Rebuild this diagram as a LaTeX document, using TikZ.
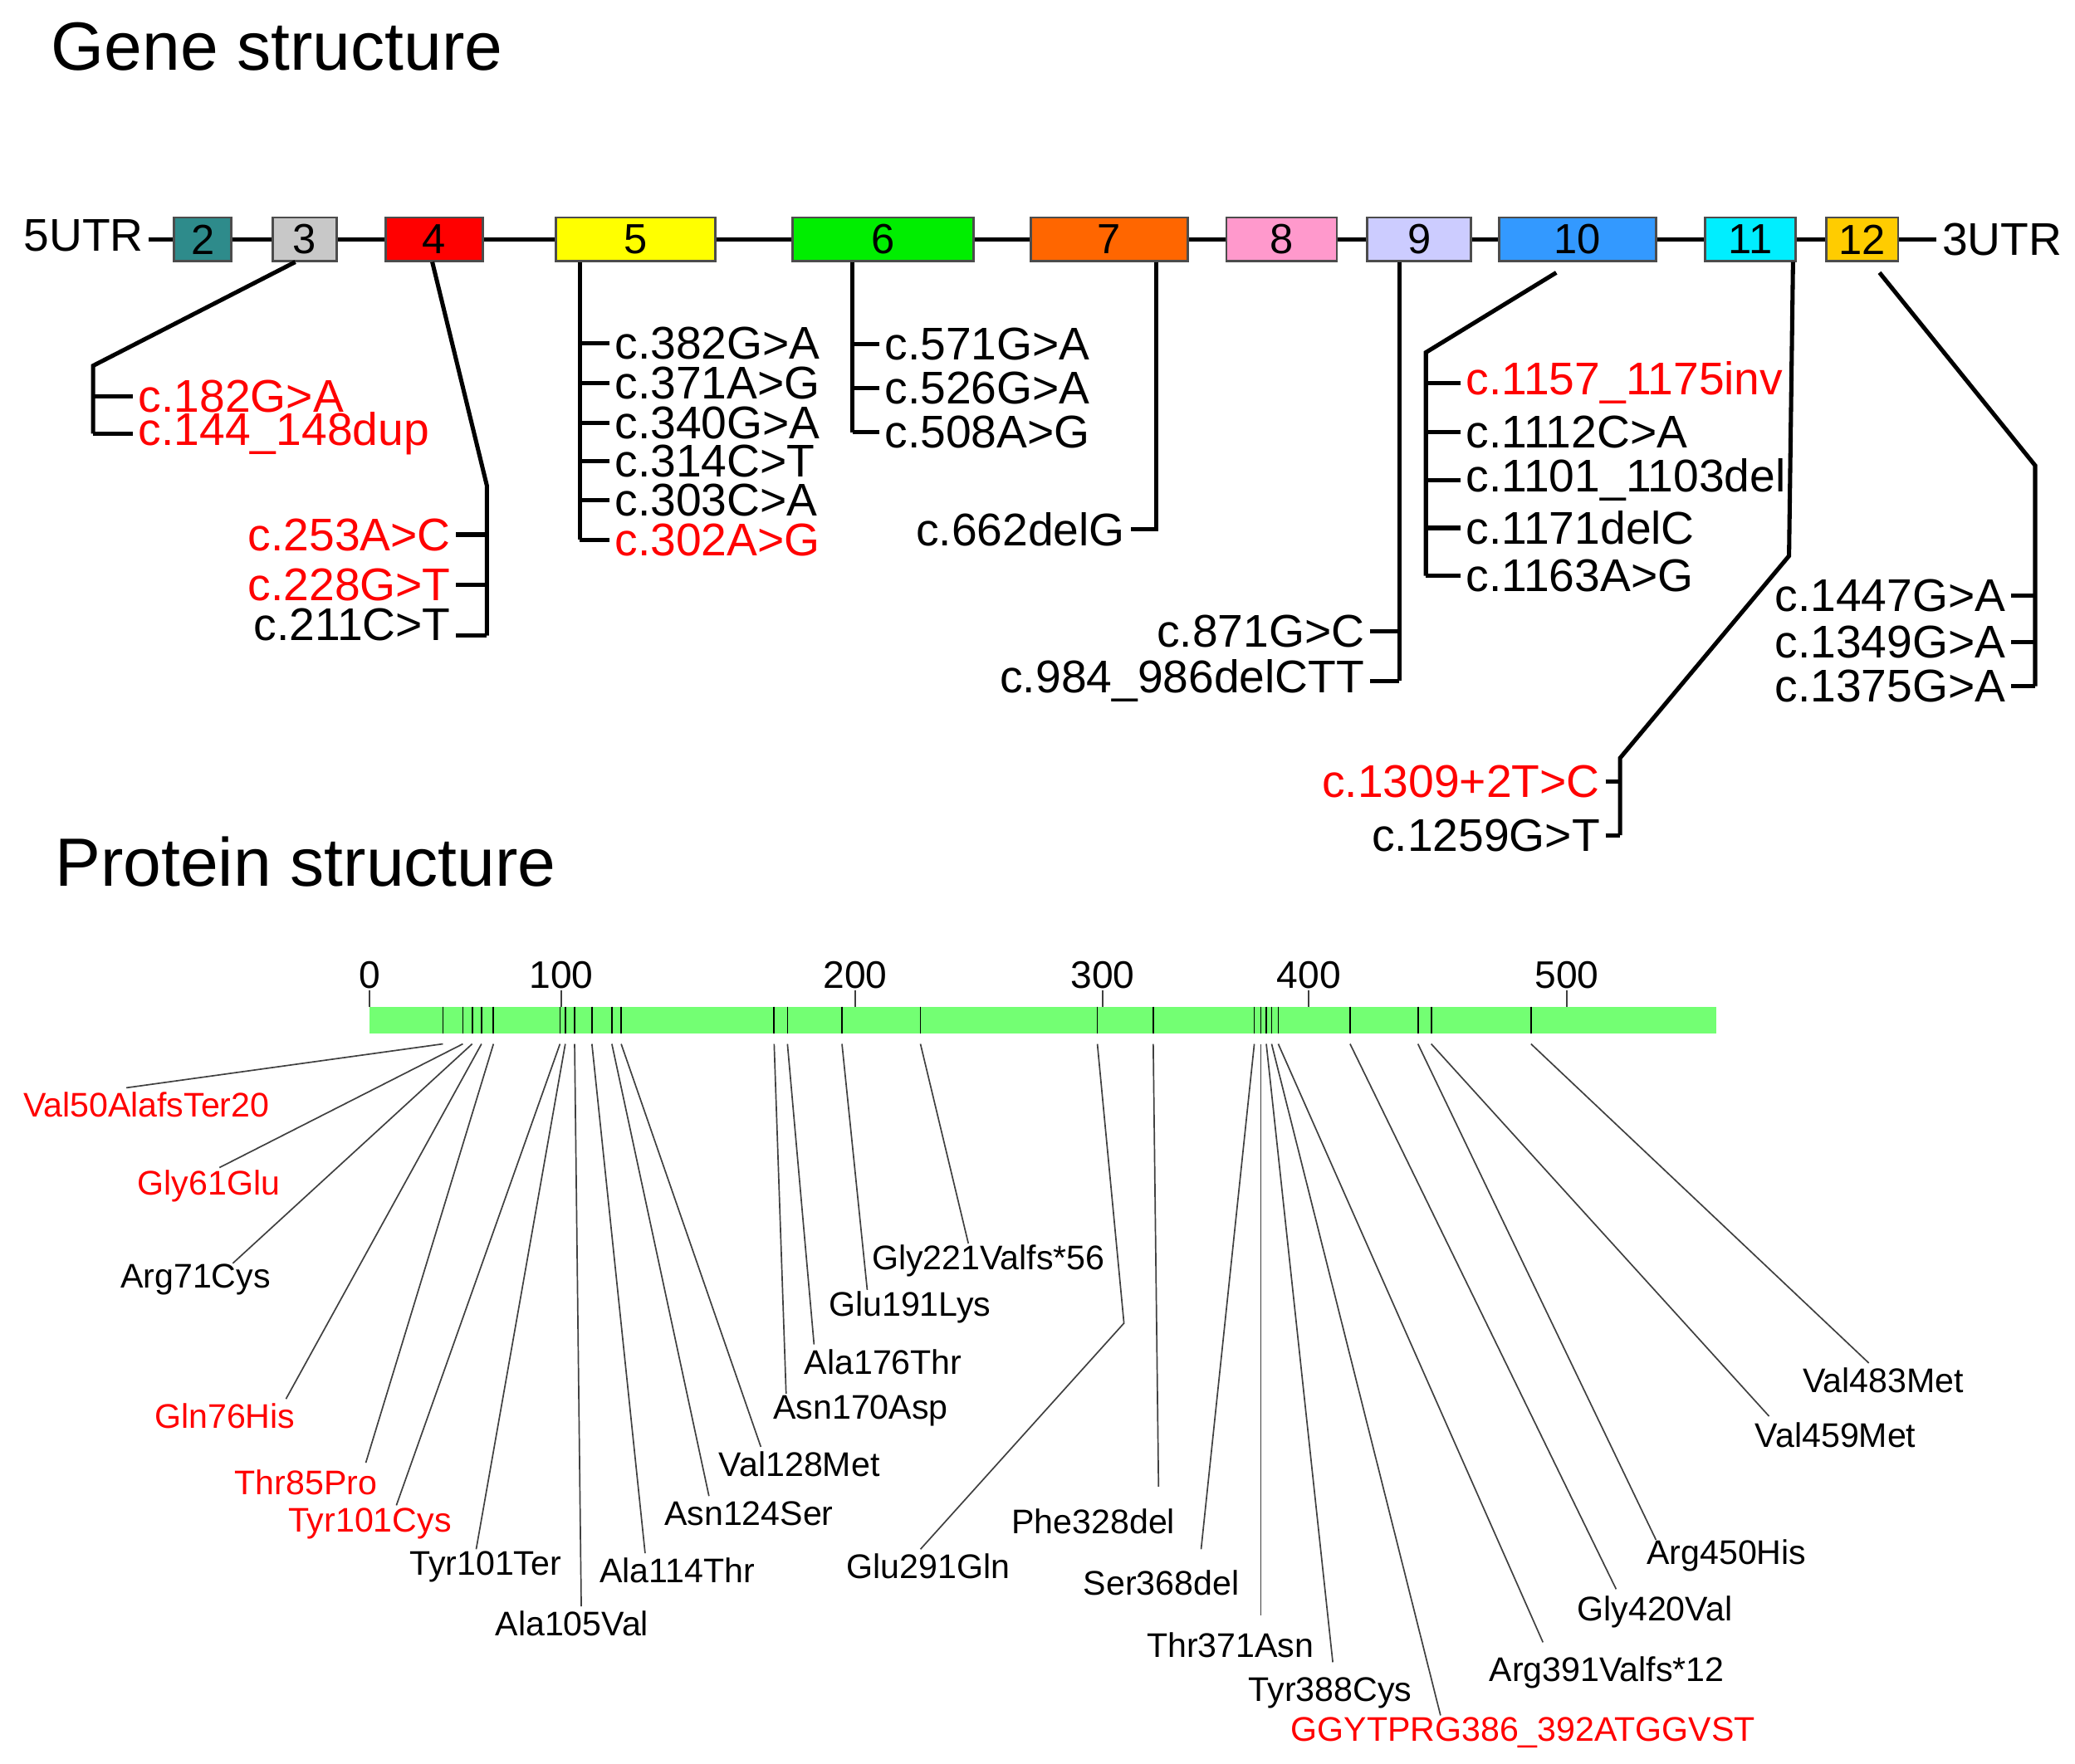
\documentclass[tikz,border=0pt]{standalone}
\usepackage{fontspec}
\setmainfont{Liberation Sans}
\begin{document}
\begin{tikzpicture}[x=0.01cm,y=-0.01cm,
 exon/.style={draw=black!70,line width=0.5pt,minimum height=0.33cm,inner sep=0pt,font=\fontsize{9}{9}\selectfont},
 gl/.style={font=\fontsize{9.8}{10}\selectfont,inner sep=1pt},
 pl/.style={font=\fontsize{7.3}{8}\selectfont,inner sep=1pt},
 ax/.style={font=\fontsize{8.2}{9}\selectfont},
 ln/.style={line width=0.9pt},
 pln/.style={line width=0.3pt,black!75},
 mut/.style={red}]
\useasboundingbox (0,0) rectangle (1560,1326);
\node[anchor=west,font=\fontsize{14.6}{16}\selectfont] (t1) at (26,35) {Gene structure};
\node[anchor=west,font=\fontsize{14.6}{16}\selectfont] (t2) at (29,648) {Protein structure};
% backbone
\node[anchor=east,gl] (u5) at (112,177) {5UTR};
\node[anchor=west,gl] (u3) at (1456,180) {3UTR};
\draw[ln] (u5.east|-0,180) -- (u3.west|-0,180);
\definecolor{c2}{HTML}{2E8B8B}\definecolor{c3}{HTML}{C8C8C8}\definecolor{c4}{HTML}{FF0000}
\definecolor{c5}{HTML}{FFFF00}\definecolor{c6}{HTML}{00EE00}\definecolor{c7}{HTML}{FF6600}
\definecolor{c8}{HTML}{FF99CC}\definecolor{c9}{HTML}{CCCCFF}\definecolor{c10}{HTML}{3399FF}
\definecolor{c11}{HTML}{00EEFF}\definecolor{c12}{HTML}{FFCC00}
\foreach \n/\a/\b in {2/131/174,3/205/253,4/290/363,5/418/538,6/596/732,7/775/893,8/922/1005,9/1028/1106,10/1127/1245,11/1282/1350,12/1373/1427}{
 \pgfmathsetmacro\w{(\b-\a)*0.01}
 \node[exon,fill=c\n,minimum width=\w cm] (e\n) at ({(\a+\b)/2},180) {\n};}
% exon 3
\coordinate (k3) at (70,275);\coordinate (k3b) at (70,326);
\draw[ln] (222,197) -- (k3) -- (k3b);
\node[gl,mut,anchor=west] (m182) at (100,298) {c.182G>A};
\node[gl,mut,anchor=west] (m144) at (100,326) {c.144\_148dup};
\draw[ln] (70,298) -- (m182.west); \draw[ln] (k3b) -- (m144.west);
% exon 4
\coordinate (k4) at (366,365);\coordinate (k4b) at (366,478);
\draw[ln] (325,197) -- (k4) -- (k4b);
\node[gl,mut,anchor=east] (m253) at (343,402) {c.253A>C};
\node[gl,mut,anchor=east] (m228) at (343,440) {c.228G>T};
\node[gl,anchor=east] (m211) at (343,470) {c.211C>T};
\draw[ln] (m253.east) -- (366,402); \draw[ln] (m228.east) -- (366,440); \draw[ln] (m211.east|-k4b) -- (k4b);
% exon 5
\draw[ln] (436,197) -- (436,406);
\foreach \y/\t/\c in {258/c.382G>A/black,288/c.371A>G/black,318/c.340G>A/black,347/c.314C>T/black,376/c.303C>A/black,406/c.302A>G/red}{
 \node[gl,anchor=west,text=\c] (x5\y) at (458,\y) {\t}; \draw[ln] (436,\y) -- (x5\y.west);}
% exon 6
\draw[ln] (641,197) -- (641,325);
\foreach \y/\t in {259/c.571G>A,292/c.526G>A,325/c.508A>G}{
 \node[gl,anchor=west] (x6\y) at (661,\y) {\t}; \draw[ln] (641,\y) -- (x6\y.west);}
% exon 7
\node[gl,anchor=east] (m662) at (850,398) {c.662delG};
\draw[ln] (869,197) -- (869,398) -- (m662.east);
% exon 9
\draw[ln] (1052,197) -- (1052,512);
\node[gl,anchor=east] (m871) at (1030,475) {c.871G>C};
\node[gl,anchor=east] (m984) at (1030,512) {c.984\_986delCTT};
\draw[ln] (m871.east) -- (1052,475); \draw[ln] (m984.east) -- (1052,512);
% exon 10
\draw[ln] (1170,205) -- (1072,265) -- (1072,433);
\foreach \y/\t/\c in {288/c.1157\_1175inv/red,325/c.1112C>A/black,361/c.1101\_1103del/black,397/c.1171delC/black,433/c.1163A>G/black}{
 \node[gl,anchor=west,text=\c] (x10\y) at (1098,\y) {\t}; \draw[ln] (1072,\y) -- (x10\y.west);}
% exon 11
\draw[ln] (1348,197) -- (1345,418) -- (1218,570) -- (1218,628);
\node[gl,mut,anchor=east] (m1309) at (1207,588) {c.1309+2T>C};
\node[gl,anchor=east] (m1259) at (1207,628) {c.1259G>T};
\draw[ln] (m1309.east) -- (1218,588); \draw[ln] (m1259.east) -- (1218,628);
% exon 12
\draw[ln] (1413,205) -- (1530,350) -- (1530,516);
\foreach \y/\t in {448/c.1447G>A,483/c.1349G>A,516/c.1375G>A}{
 \node[gl,anchor=east] (x12\y) at (1512,\y) {\t}; \draw[ln] (x12\y.east) -- (1530,\y);}
% protein
\fill[green!55!white] (278,757) rectangle (1290,777);
\foreach \x/\l in {278/0,422/100,643/200,829/300,984/400,1178/500}{
 \node[ax] (a\l) at (\x,733) {\l}; \draw[pln] (\x,745) -- (\x,757);}
\foreach \x/\lx/\ly/\t/\c/\ex/\ey in {
333/110/831/Val50AlafsTer20/red/95/818,
348/157/892/Gly61Glu/red/165/878,
355/147/962/Arg71Cys/black/175/950,
362/169/1065/Gln76His/red/215/1052,
371/230/1115/Thr85Pro/red/275/1100,
421/278/1146/Tyr101Cys/red/298/1132,
425/365/1178/Tyr101Ter/black/358/1165,
432/430/1221/Ala105Val/black/437/1208,
445/509/1181/Ala114Thr/black/485/1168,
460/563/1138/Asn124Ser/black/533/1125,
467/601/1101/Val128Met/black/572/1088,
582/647/1061/Asn170Asp/black/591/1048,
592/664/1024/Ala176Thr/black/612/1011,
633/684/983/Glu191Lys/black/652/970,
692/743/948/Gly221Valfs*56/black/728/935,
867/822/1144/Phe328del/black/871/1118,
943/873/1190/Ser368del/black/903/1165,
948/925/1237/Thr371Asn/black/948/1215,
952/1000/1273/Tyr388Cys/black/1002/1250,
956/1145/1303/GGYTPRG386\_392ATGGVST/red/1083/1290,
961/1208/1258/Arg391Valfs*12/black/1160/1235,
1015/1244/1212/Gly420Val/black/1215/1195,
1066/1298/1170/Arg450His/black/1245/1158,
1076/1380/1079/Val459Met/black/1330/1065,
1151/1416/1038/Val483Met/black/1405/1025}{
 \draw[pln,black] (\x,757) -- (\x,777);
 \node[pl,text=\c] (p\x) at (\lx,\ly) {\t};
 \draw[pln] (\x,785) -- (\ex,\ey);}
\draw[pln,black] (825,757) -- (825,777);
\node[pl] (p825) at (698,1178) {Glu291Gln};
\draw[pln] (825,785) -- (845,995) -- (692,1165);
\end{tikzpicture}
\end{document}
